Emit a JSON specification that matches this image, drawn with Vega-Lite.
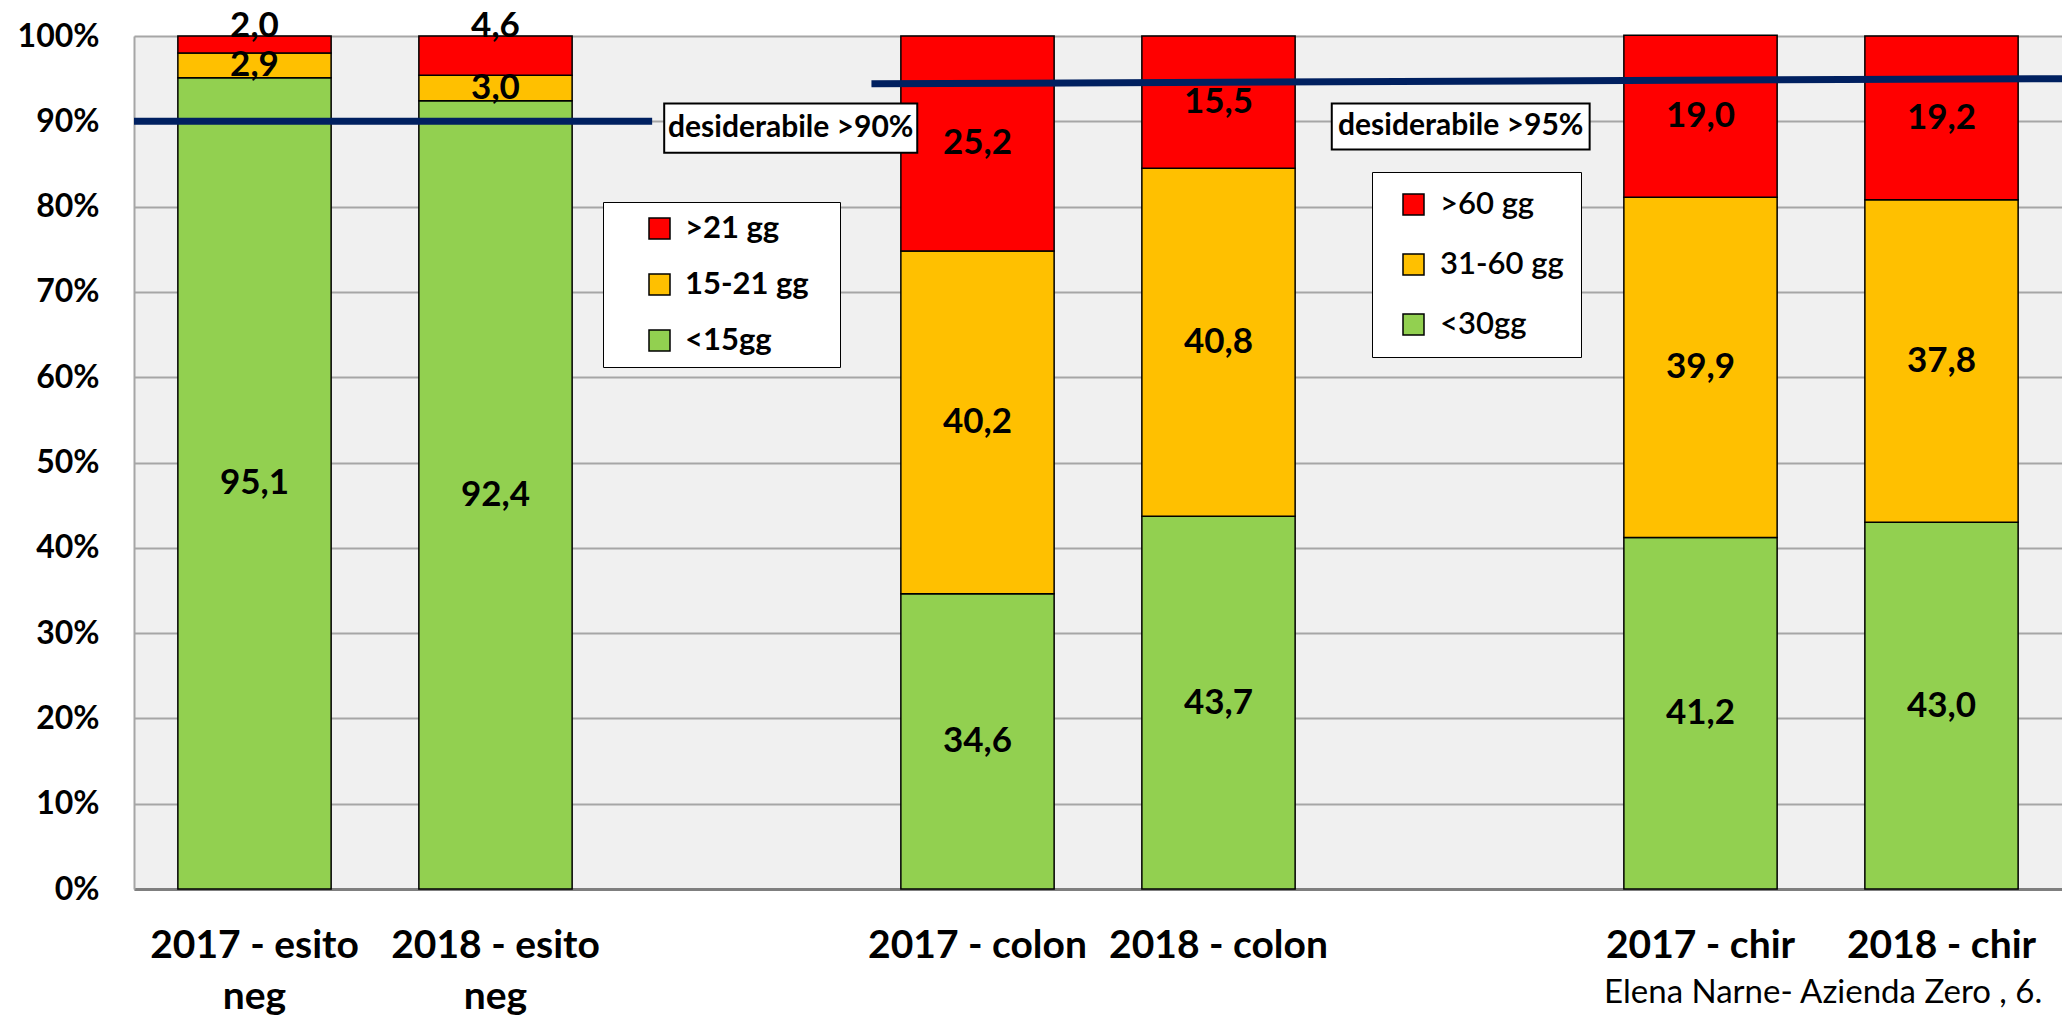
{
  "$schema": "https://vega.github.io/schema/vega-lite/v6.json",
  "width": 1928,
  "height": 853,
  "autosize": {"type": "none"},
  "padding": {"left": 134, "top": 36, "right": 0, "bottom": 127},
  "background": "white",
  "config": {
    "font": "Lato",
    "view": {"stroke": null, "fill": "#f0f0f0"},
    "locale": {"number": {"decimal": ",", "thousands": ".", "grouping": [3], "currency": ["€", ""]}},
    "axisX": {
      "labelAngle": 0,
      "labelExpr": "indexof(datum.label, 'gap') == 0 ? '' : split(datum.label, '|')",
      "labelFontSize": 39, "labelFontWeight": "bold", "labelColor": "black",
      "labelPadding": 37, "labelLineHeight": 51, "labelLimit": 500, "labelOverlap": false,
      "ticks": false, "tickSize": 0, "domainColor": "#7f7f7f", "domainWidth": 3, "grid": false
    },
    "axisY": {
      "tickCount": 10,
      "labelExpr": "datum.value + '%'",
      "labelFontSize": 32, "labelFontWeight": "bold", "labelColor": "black",
      "labelPadding": 35, "ticks": false, "tickSize": 0,
      "domain": true, "domainColor": "#a6a6a6", "domainWidth": 2,
      "grid": true, "gridColor": "#a6a6a6", "gridWidth": 2
    }
  },
  "datasets": {
    "tempi": [
      {"categoria": "2017 - esito|neg", "gruppo": "esito", "fascia": "<15gg", "livello": 1, "valore": 95.1},
      {"categoria": "2017 - esito|neg", "gruppo": "esito", "fascia": "15-21 gg", "livello": 2, "valore": 2.9},
      {"categoria": "2017 - esito|neg", "gruppo": "esito", "fascia": ">21 gg", "livello": 3, "valore": 2.0},
      {"categoria": "2018 - esito|neg", "gruppo": "esito", "fascia": "<15gg", "livello": 1, "valore": 92.4},
      {"categoria": "2018 - esito|neg", "gruppo": "esito", "fascia": "15-21 gg", "livello": 2, "valore": 3.0},
      {"categoria": "2018 - esito|neg", "gruppo": "esito", "fascia": ">21 gg", "livello": 3, "valore": 4.6},
      {"categoria": "2017 - colon", "gruppo": "colon", "fascia": "<30gg", "livello": 1, "valore": 34.6},
      {"categoria": "2017 - colon", "gruppo": "colon", "fascia": "31-60 gg", "livello": 2, "valore": 40.2},
      {"categoria": "2017 - colon", "gruppo": "colon", "fascia": ">60 gg", "livello": 3, "valore": 25.2},
      {"categoria": "2018 - colon", "gruppo": "colon", "fascia": "<30gg", "livello": 1, "valore": 43.7},
      {"categoria": "2018 - colon", "gruppo": "colon", "fascia": "31-60 gg", "livello": 2, "valore": 40.8},
      {"categoria": "2018 - colon", "gruppo": "colon", "fascia": ">60 gg", "livello": 3, "valore": 15.5},
      {"categoria": "2017 - chir", "gruppo": "chir", "fascia": "<30gg", "livello": 1, "valore": 41.2},
      {"categoria": "2017 - chir", "gruppo": "chir", "fascia": "31-60 gg", "livello": 2, "valore": 39.9},
      {"categoria": "2017 - chir", "gruppo": "chir", "fascia": ">60 gg", "livello": 3, "valore": 19.0},
      {"categoria": "2018 - chir", "gruppo": "chir", "fascia": "<30gg", "livello": 1, "valore": 43.0},
      {"categoria": "2018 - chir", "gruppo": "chir", "fascia": "31-60 gg", "livello": 2, "valore": 37.8},
      {"categoria": "2018 - chir", "gruppo": "chir", "fascia": ">60 gg", "livello": 3, "valore": 19.2}
    ],
    "soglie": [
      {"soglia": 90, "etichetta": "desiderabile >90%"},
      {"soglia": 95, "etichetta": "desiderabile >95%"}
    ],
    "fonte": [
      {"testo": "Elena Narne- Azienda Zero , 6."}
    ]
  },
  "layer": [
    {
      "data": {"name": "tempi"},
      "transform": [{"filter": "datum.gruppo == 'esito'"}],
      "mark": {"type": "bar", "stroke": "black", "strokeWidth": 1.5},
      "encoding": {
        "x": {
          "field": "categoria", "type": "nominal", "sort": null, "title": null,
          "scale": {"domain": ["2017 - esito|neg", "2018 - esito|neg", "gap1", "2017 - colon", "2018 - colon", "gap2", "2017 - chir", "2018 - chir"], "paddingInner": 0.364, "paddingOuter": 0.182}
        },
        "y": {
          "field": "valore", "type": "quantitative", "stack": "zero", "title": null,
          "scale": {"domain": [0, 100], "nice": false}
        },
        "color": {
          "field": "fascia", "type": "nominal",
          "scale": {"domain": [">21 gg", "15-21 gg", "<15gg"], "range": ["#ff0000", "#ffc000", "#92d050"]},
          "legend": {
            "orient": "none", "legendX": 469, "legendY": 166,
            "title": "\u00a0", "titleOrient": "right", "titlePadding": 20, "titleFontSize": 2,
            "fillColor": "white", "strokeColor": "black", "padding": 11,
            "symbolType": "square", "symbolSize": 441, "symbolStrokeColor": "black", "symbolStrokeWidth": 1.5,
            "symbolOffset": 30, "labelOffset": 10, "rowPadding": 24,
            "labelFontSize": 31, "labelFontWeight": "bold", "labelColor": "black", "labelLimit": 500
          }
        },
        "order": {"field": "livello", "type": "quantitative"}
      }
    },
    {
      "data": {"name": "tempi"},
      "transform": [{"filter": "datum.gruppo != 'esito'"}],
      "mark": {"type": "bar", "stroke": "black", "strokeWidth": 1.5},
      "encoding": {
        "x": {
          "field": "categoria", "type": "nominal", "sort": null, "title": null, "axis": null,
          "scale": {"domain": ["2017 - esito|neg", "2018 - esito|neg", "gap1", "2017 - colon", "2018 - colon", "gap2", "2017 - chir", "2018 - chir"], "paddingInner": 0.364, "paddingOuter": 0.182}
        },
        "y": {"field": "valore", "type": "quantitative", "stack": "zero", "title": null, "scale": {"domain": [0, 100], "nice": false}},
        "color": {
          "field": "fascia", "type": "nominal",
          "scale": {"domain": [">60 gg", "31-60 gg", "<30gg"], "range": ["#ff0000", "#ffc000", "#92d050"]},
          "legend": {
            "orient": "none", "legendX": 1238, "legendY": 136, "title": null,
            "fillColor": "white", "strokeColor": "black", "padding": 17,
            "symbolType": "square", "symbolSize": 441, "symbolStrokeColor": "black", "symbolStrokeWidth": 1.5,
            "symbolOffset": 9, "labelOffset": 11, "rowPadding": 28,
            "labelFontSize": 31, "labelFontWeight": 600, "labelColor": "black", "labelLimit": 500
          }
        },
        "order": {"field": "livello", "type": "quantitative"}
      }
    },
    {
      "data": {"name": "tempi"},
      "transform": [
        {"stack": "valore", "groupby": ["categoria"], "sort": [{"field": "livello", "order": "ascending"}], "as": ["y0", "y1"]},
        {"calculate": "datum.livello == 3 && datum.valore < 5 ? 101.2 : (datum.y0 + datum.y1) / 2", "as": "ylab"}
      ],
      "mark": {"type": "text", "fontSize": 35, "fontWeight": "bold", "color": "black", "baseline": "middle", "align": "center"},
      "encoding": {
        "x": {
          "field": "categoria", "type": "nominal", "sort": null, "title": null, "axis": null,
          "scale": {"domain": ["2017 - esito|neg", "2018 - esito|neg", "gap1", "2017 - colon", "2018 - colon", "gap2", "2017 - chir", "2018 - chir"], "paddingInner": 0.364, "paddingOuter": 0.182}
        },
        "y": {"field": "ylab", "type": "quantitative", "title": null, "scale": {"domain": [0, 100], "nice": false}},
        "text": {"field": "valore", "type": "quantitative", "format": ".1f"}
      }
    },
    {
      "data": {"name": "soglie"},
      "transform": [{"filter": "datum.soglia == 90"}],
      "mark": {"type": "rule", "color": "#002060", "strokeWidth": 7},
      "encoding": {
        "x": {"datum": 0, "type": "quantitative", "scale": {"domain": [0, 8], "nice": false, "zero": false}, "axis": null},
        "x2": {"datum": 2.15},
        "y": {"field": "soglia", "type": "quantitative", "title": null, "scale": {"domain": [0, 100], "nice": false}}
      }
    },
    {
      "data": {"name": "soglie"},
      "transform": [{"filter": "datum.soglia == 95"}],
      "mark": {"type": "rule", "color": "#002060", "strokeWidth": 7},
      "encoding": {
        "x": {"datum": 3.06, "type": "quantitative", "scale": {"domain": [0, 8], "nice": false, "zero": false}, "axis": null},
        "x2": {"datum": 8},
        "y": {"datum": 94.4, "type": "quantitative", "title": null, "scale": {"domain": [0, 100], "nice": false}},
        "y2": {"datum": 95}
      }
    },
    {
      "data": {"name": "soglie"},
      "transform": [{"filter": "datum.soglia == 90"}],
      "mark": {"type": "rect", "fill": "white", "stroke": "black", "strokeWidth": 2},
      "encoding": {
        "x": {"datum": 2.2, "type": "quantitative", "scale": {"domain": [0, 8], "nice": false, "zero": false}, "axis": null},
        "x2": {"datum": 3.25},
        "y": {"datum": 86.3, "type": "quantitative", "title": null, "scale": {"domain": [0, 100], "nice": false}},
        "y2": {"datum": 92.1}
      }
    },
    {
      "data": {"name": "soglie"},
      "transform": [{"filter": "datum.soglia == 90"}],
      "mark": {"type": "text", "fontSize": 30, "fontWeight": "bold", "color": "black", "align": "center", "baseline": "middle"},
      "encoding": {
        "x": {"datum": 2.725, "type": "quantitative", "scale": {"domain": [0, 8], "nice": false, "zero": false}, "axis": null},
        "y": {"datum": 89.2, "type": "quantitative", "title": null, "scale": {"domain": [0, 100], "nice": false}},
        "text": {"field": "etichetta", "type": "nominal"}
      }
    },
    {
      "data": {"name": "soglie"},
      "transform": [{"filter": "datum.soglia == 95"}],
      "mark": {"type": "rect", "fill": "white", "stroke": "black", "strokeWidth": 2},
      "encoding": {
        "x": {"datum": 4.97, "type": "quantitative", "scale": {"domain": [0, 8], "nice": false, "zero": false}, "axis": null},
        "x2": {"datum": 6.04},
        "y": {"datum": 86.7, "type": "quantitative", "title": null, "scale": {"domain": [0, 100], "nice": false}},
        "y2": {"datum": 92.1}
      }
    },
    {
      "data": {"name": "soglie"},
      "transform": [{"filter": "datum.soglia == 95"}],
      "mark": {"type": "text", "fontSize": 30, "fontWeight": "bold", "color": "black", "align": "center", "baseline": "middle"},
      "encoding": {
        "x": {"datum": 5.505, "type": "quantitative", "scale": {"domain": [0, 8], "nice": false, "zero": false}, "axis": null},
        "y": {"datum": 89.4, "type": "quantitative", "title": null, "scale": {"domain": [0, 100], "nice": false}},
        "text": {"field": "etichetta", "type": "nominal"}
      }
    },
    {
      "data": {"name": "fonte"},
      "mark": {"type": "text", "fontSize": 33, "color": "black", "align": "left", "baseline": "middle"},
      "encoding": {
        "x": {"datum": 6.1, "type": "quantitative", "scale": {"domain": [0, 8], "nice": false, "zero": false}, "axis": null},
        "y": {"datum": -12.2, "type": "quantitative", "title": null, "scale": {"domain": [0, 100], "nice": false}},
        "text": {"field": "testo", "type": "nominal"}
      }
    }
  ],
  "resolve": {"scale": {"x": "independent", "color": "independent"}}
}
